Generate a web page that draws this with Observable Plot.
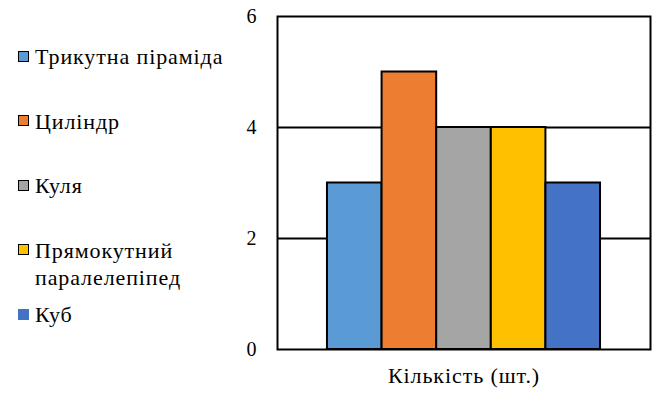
<!DOCTYPE html>
<html>
<head>
<meta charset="utf-8">
<script src="https://cdn.jsdelivr.net/npm/d3@7"></script>
<script src="https://cdn.jsdelivr.net/npm/@observablehq/plot@0.6"></script>
<style>
  html, body { margin: 0; padding: 0; background: white; }
  #wrap { position: relative; width: 665px; height: 397px; overflow: hidden; background: white; font-family: "Liberation Serif", "Times New Roman", serif; }
  #legend { position: absolute; left: 0; top: 0; z-index: 2; }
  #legend .item { position: absolute; left: 35px; font-size: 22px; line-height: 27px; letter-spacing: 0.9px; color: #000; white-space: nowrap; }
  #legend .sw { position: absolute; left: 18px; width: 9px; height: 9px; border: 1.5px solid #000; }
  #legend .sw.nb { border-color: transparent; }
  #chart { position: absolute; left: 200px; top: 0; z-index: 1; }
  #chart g[aria-label^="fx-axis"] text { font-size: 22px; letter-spacing: 0.9px; }
</style>
</head>
<body>
<div id="wrap">
  <div id="chart"></div>
  <div id="legend"></div>
</div>
<script>
const categories = ["Трикутна піраміда", "Циліндр", "Куля", "Прямокутний паралелепіпед", "Куб"];
const legendLines = [["Трикутна піраміда"], ["Циліндр"], ["Куля"], ["Прямокутний", "паралелепіпед"], ["Куб"]];
const values = [3, 5, 4, 4, 3];
const colors = ["#5B9BD5", "#ED7D31", "#A5A5A5", "#FFC000", "#4472C4"];
const groupLabel = "Кількість (шт.)";
const yTicks = [0, 2, 4, 6];
const gridValues = [2, 4];

const data = categories.map((c, i) => ({group: groupLabel, name: c, value: values[i]}));

// legend (HTML, left of the chart)
const legendBaselines = [64, 128.5, 193, 257.5, 322];
const legend = document.getElementById("legend");
legendLines.forEach((lines, i) => {
  const base = legendBaselines[i];
  const t = document.createElement("div");
  t.className = "item";
  t.style.top = (base - 21) + "px";
  t.innerHTML = lines.join("<br>");
  legend.appendChild(t);
  const s = document.createElement("div");
  s.className = "sw" + (i === categories.length - 1 ? " nb" : "");
  s.style.top = (base - 13.3) + "px";
  s.style.background = colors[i];
  legend.appendChild(s);
});

const chart = Plot.plot({
  width: 465,
  height: 397,
  marginLeft: 77,
  marginRight: 15,
  marginTop: 16,
  marginBottom: 48,
  style: {fontFamily: "'Liberation Serif', 'Times New Roman', serif", fontSize: "20px", background: "transparent", color: "black", overflow: "visible"},
  fx: {domain: [groupLabel], padding: 0, label: null, axis: "bottom", tickSize: 0, tickPadding: 18},
  x: {domain: categories, paddingInner: 0, paddingOuter: 0.915, round: false, axis: null},
  y: {domain: [0, 6], ticks: yTicks, tickFormat: d3.format("d"), label: null, tickSize: 0, tickPadding: 21},
  color: {domain: categories, range: colors},
  marks: [
    Plot.ruleY(gridValues, {stroke: "black", strokeWidth: 2}),
    Plot.barY(data, {fx: "group", x: "name", y: "value", fill: "name", stroke: "black", strokeWidth: 2}),
    Plot.frame({stroke: "black", strokeWidth: 2})
  ]
});
document.getElementById("chart").appendChild(chart);
</script>
</body>
</html>
